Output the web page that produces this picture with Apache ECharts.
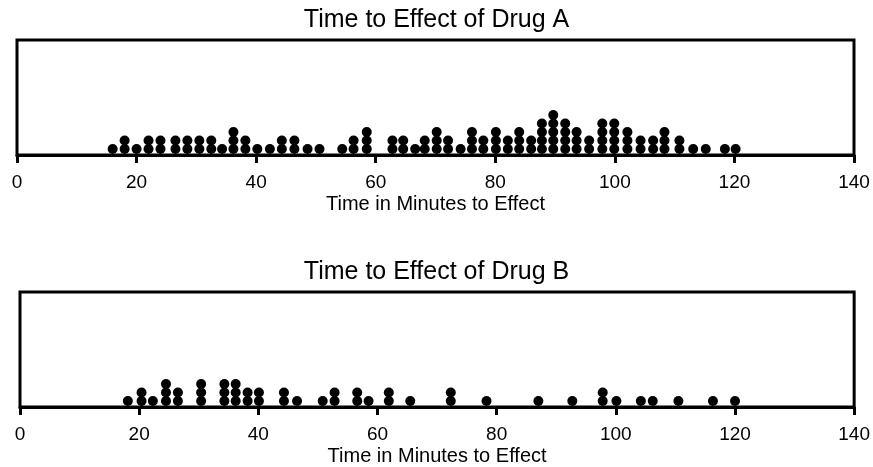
<!DOCTYPE html>
<html>
<head>
<meta charset="utf-8">
<script src="https://cdn.jsdelivr.net/npm/echarts@6/dist/echarts.min.js"></script>
<style>html,body{margin:0;padding:0;background:#fff}#c{width:873px;height:467px}</style>
</head>
<body>
<div id="c"></div>
<script>
// Drug A: time (minutes) and number of stacked dots at that time
var drugATimes = [16,18,20,22,24,26.5,28.5,30.5,32.5,34.3,36.2,38.2,40.2,42.3,44.3,46.4,48.6,50.6,54.4,56.3,58.5,62.8,64.6,66.6,68.2,70.2,72.1,74.2,76.1,78,80.1,82.1,84,86,87.8,89.7,91.7,93.6,95.7,97.9,99.9,102.1,104.3,106.4,108.3,110.8,113.1,115.2,118.4,120.2];
var drugACounts = [1,2,1,2,2,2,2,2,2,1,3,2,1,1,2,2,1,1,1,2,3,2,2,1,2,3,2,1,3,2,3,2,3,2,4,5,4,3,2,4,4,3,2,2,3,2,1,1,1,1];
// Drug B
var drugBTimes = [18.1,20.4,22.3,24.5,26.5,30.4,34.3,36.2,38.2,40.1,44.3,46.5,50.8,52.8,56.6,58.5,61.9,65.5,72.3,78.3,87,92.7,97.8,100.1,104.2,106.2,110.5,116.3,120];
var drugBCounts = [1,2,1,3,2,3,3,3,2,2,2,1,1,2,2,1,2,1,2,1,1,1,2,1,1,1,1,1,1];
var xTicks = [0,20,40,60,80,100,120,140];
var titles = ['Time to Effect of Drug A','Time to Effect of Drug B'];
var axisName = 'Time in Minutes to Effect';

function stack(times, counts){
  var pts = [];
  for (var i=0;i<times.length;i++){
    for (var k=0;k<counts[i];k++){ pts.push([times[i], k]); }
  }
  return pts;
}

var font = '"Liberation Sans", Arial, sans-serif';
var grids = [
  {left:17, right:19, top:40, height:115},
  {left:20, right:16, top:292, height:115}
];
function xAx(i){
  return {
    gridIndex:i, type:'value', min:xTicks[0], max:xTicks[xTicks.length-1], interval:20,
    name:axisName, nameLocation:'middle', nameGap:39,
    nameTextStyle:{color:'#000', fontSize:20, fontFamily:font},
    axisLine:{show:true, onZero:false, lineStyle:{color:'#000', width:3}},
    axisTick:{show:true, length:8, lineStyle:{color:'#000', width:3}},
    axisLabel:{color:'#000', fontSize:19, fontFamily:font, margin:18},
    splitLine:{show:false}
  };
}
function yAx(i){
  return {gridIndex:i, type:'value', min:-0.7, max:12.8, show:false, splitLine:{show:false}};
}
var option = {
  backgroundColor:'#fff',
  animation:false,
  title:[
    {text:titles[0], left:'center', top:3, textStyle:{color:'#000', fontSize:25, fontWeight:'normal', fontFamily:font}},
    {text:titles[1], left:'center', top:255, textStyle:{color:'#000', fontSize:25, fontWeight:'normal', fontFamily:font}}
  ],
  grid:grids.map(function(g){return Object.assign({show:true, borderColor:'#000', borderWidth:3, backgroundColor:'transparent'}, g);}),
  xAxis:[xAx(0), xAx(1)],
  yAxis:[yAx(0), yAx(1)],
  series:[
    {type:'scatter', xAxisIndex:0, yAxisIndex:0, data:stack(drugATimes, drugACounts), symbol:'circle', symbolSize:10, itemStyle:{color:'#000', opacity:1}},
    {type:'scatter', xAxisIndex:1, yAxisIndex:1, data:stack(drugBTimes, drugBCounts), symbol:'circle', symbolSize:10, itemStyle:{color:'#000', opacity:1}}
  ]
};
var chart = echarts.init(document.getElementById('c'), null, {renderer:'canvas'});
chart.setOption(option);
</script>
</body>
</html>
